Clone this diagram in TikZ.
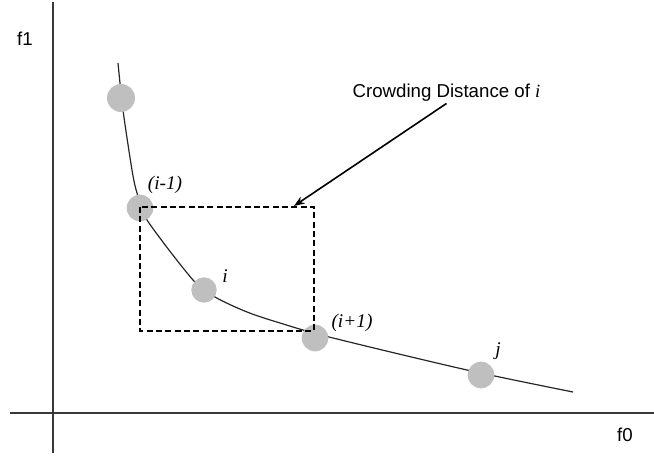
\documentclass[tikz,border=0pt]{standalone}
\usepackage{fontspec}
\setmainfont{Liberation Sans}
\newfontfamily\romana{Liberation Serif}
\usetikzlibrary{arrows.meta}

\tikzset{
  eje/.style={line width=1.1pt,draw=black!78},
  punto/.style={circle,fill=gray!50,inner sep=0pt,minimum size=#1},
  etiqueta/.style={font=\romana\itshape\fontsize{14.5}{17}\selectfont,inner sep=0pt},
  caja/.style={line width=1.3pt,dash pattern=on 4.5pt off 2.5pt},
  flecha/.style={line width=1.2pt,-{Stealth[length=8pt,width=6pt]}},
}

\begin{document}
\begin{tikzpicture}[x=0.75pt,y=-0.75pt,font=\fontsize{14}{16}\selectfont]
    \useasboundingbox (0,0) rectangle (654,456);

    % ejes
    \draw[eje] (53,2) -- (53,453);
    \draw[eje] (10,413) -- (654,413);
    \node (f1) at (25,39) {f1};
    \node (f0) at (625,435) {f0};

    % frente de Pareto
    \draw[line width=0.9pt,black!85] plot[smooth,tension=0.5] coordinates {
        (118,63) (123,110) (132,170) (137,193) (147,220)
        (193,280) (215,297) (247,312) (280,323) (329,337)
        (467,370) (573,392)};

    % soluciones
    \foreach \n/\x/\y/\d in {
        a/121/98/21pt,
        im1/140/208/20pt,
        i/204/290/19pt,
        ip1/315/338/20pt,
        j/481/375/20pt}{
      \node[punto=\d] (\n) at (\x,\y) {};
    }

    % caja de la distancia
    \coordinate (esq1) at (140,207);
    \coordinate (esq2) at (314,331);
    \draw[caja] (esq1) rectangle (esq2);

    % etiquetas
    \node[etiqueta,anchor=base] (lim1) at (165,190) {(i-1)};
    \node[etiqueta,anchor=base] (li) at (225,283) {i};
    \node[etiqueta,anchor=base] (lip1) at (352,328) {(i+1)};
    \node[etiqueta,anchor=base] (lj) at (498,355) {j};

    % texto y flecha
    \node[anchor=base west,inner sep=1pt] (cd) at (351,98)
        {Crowding Distance of {\romana\itshape i}};
    \coordinate (punta) at (294,206);
    \draw[flecha] (cd.south) -- (punta);
  \end{tikzpicture}
\end{document}
